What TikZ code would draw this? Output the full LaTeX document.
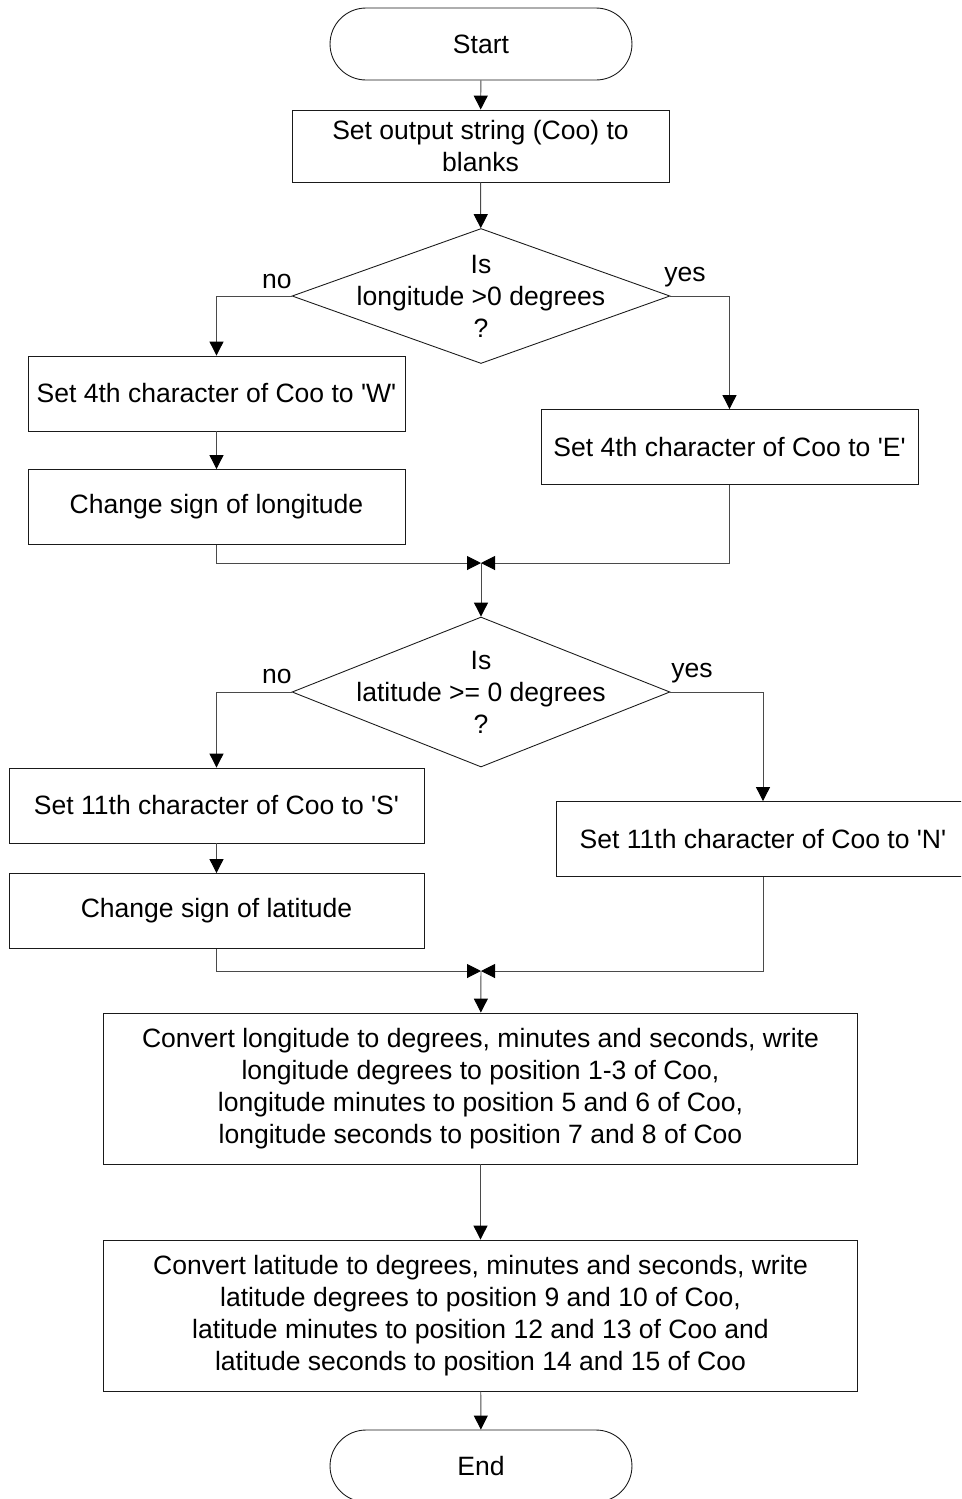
\documentclass[tikz,border=0pt]{standalone}
\usepackage{fontspec}
\setmainfont{Liberation Sans}[Ligatures=TeXOff]
\usetikzlibrary{positioning,arrows.meta,shapes.geometric}
\definecolor{boxLine}{HTML}{1A1A1A}
\definecolor{flowLine}{HTML}{4A4A4A}
\tikzset{
    terminal/.style={draw=boxLine,fill=white,rounded corners=0.72cm,line width=0.5pt,
        minimum width=6.04cm,minimum height=1.44cm,align=center,font=\chartfont},
    stepbox/.style={draw=boxLine,fill=white,line width=0.5pt,inner sep=0pt,
        minimum height=1.5cm,align=center,font=\chartfont},
    decision/.style={draw=boxLine,diamond,inner sep=0pt,line width=0.5pt,
        minimum width=7.56cm},
    label/.style={align=center,inner sep=0pt,font=\chartfont},
    arrow/.style={-{Triangle[length=0.28cm,width=0.28cm,color=black]},draw=flowLine,line width=0.55pt}
}
\newcommand{\chartfont}{\fontsize{15.1pt}{18.2pt}\selectfont}

\begin{document}
\begin{tikzpicture}[x=0.02cm,y=-0.02cm]
            \clip (0,0) rectangle (961,1499);
            \node[terminal] (start) at (481,44) {Start};
            \node[stepbox,minimum width=7.54cm,minimum height=1.44cm] (blanks) at (480.5,146)
                {Set output string (Coo) to\\blanks};
            \node[decision,minimum height=2.7cm] (isLon) at (481,296) {};
            \node[label] (isLonText) at (isLon) {Is\\longitude >0 degrees\\?};
            \node[label] (noLon) at (277,281) {no};
            \node[label] (yesLon) at (685,277) {yes};
            \node[stepbox,minimum width=7.54cm] (setW) at (216.5,393.5) {Set 4th character of Coo to 'W'};
            \node[stepbox,minimum width=7.54cm] (chgLon) at (216.5,507) {Change sign of longitude};
            \node[stepbox,minimum width=7.54cm] (setE) at (729.5,447) {Set 4th character of Coo to 'E'};
            \coordinate (mergeLon) at (481,563);
            \node[decision,minimum height=3.0cm] (isLat) at (481,692) {};
            \node[label] (isLatText) at (isLat) {Is\\latitude >= 0 degrees\\?};
            \node[label] (noLat) at (277,676) {no};
            \node[label] (yesLat) at (692,673) {yes};
            \node[stepbox,minimum width=8.3cm] (setS) at (216.5,805.5) {Set 11th character of Coo to 'S'};
            \node[stepbox,minimum width=8.3cm] (chgLat) at (216.5,911) {Change sign of latitude};
            \node[stepbox,minimum width=8.28cm] (setN) at (763,839) {Set 11th character of Coo to 'N'};
            \coordinate (mergeLat) at (481,971);
            \node[stepbox,minimum width=15.1cm,minimum height=3.02cm] (convLon) at (480.5,1088.5)
                {Convert longitude to degrees, minutes and seconds, write\\
                longitude degrees to position 1-3 of Coo,\\
                longitude minutes to position 5 and 6 of Coo,\\
                longitude seconds to position 7 and 8 of Coo};
            \node[stepbox,minimum width=15.1cm,minimum height=3.02cm] (convLat) at (480.5,1315.5)
                {Convert latitude to degrees, minutes and seconds, write\\
                latitude degrees to position 9 and 10 of Coo,\\
                latitude minutes to position 12 and 13 of Coo and\\
                latitude seconds to position 14 and 15 of Coo};
            \node[terminal] (finish) at (481,1466) {End};

            \draw[arrow] (start) -- (blanks);
            \draw[arrow] (blanks) -- (isLon);
            \draw[arrow] (isLon.west) -| (setW);
            \draw[arrow] (isLon.east) -| (setE);
            \draw[arrow] (setW) -- (chgLon);
            \draw[arrow] (chgLon.south) |- (mergeLon);
            \draw[arrow] (setE.south) |- (mergeLon);
            \draw[arrow] (mergeLon) -- (isLat);
            \draw[arrow] (isLat.west) -| (setS);
            \draw[arrow] (isLat.east) -| (setN);
            \draw[arrow] (setS) -- (chgLat);
            \draw[arrow] (chgLat.south) |- (mergeLat);
            \draw[arrow] (setN.south) |- (mergeLat);
            \draw[arrow] (mergeLat) -- (convLon);
            \draw[arrow] (convLon) -- (convLat);
            \draw[arrow] (convLat) -- (finish);
        \end{tikzpicture}
\end{document}
